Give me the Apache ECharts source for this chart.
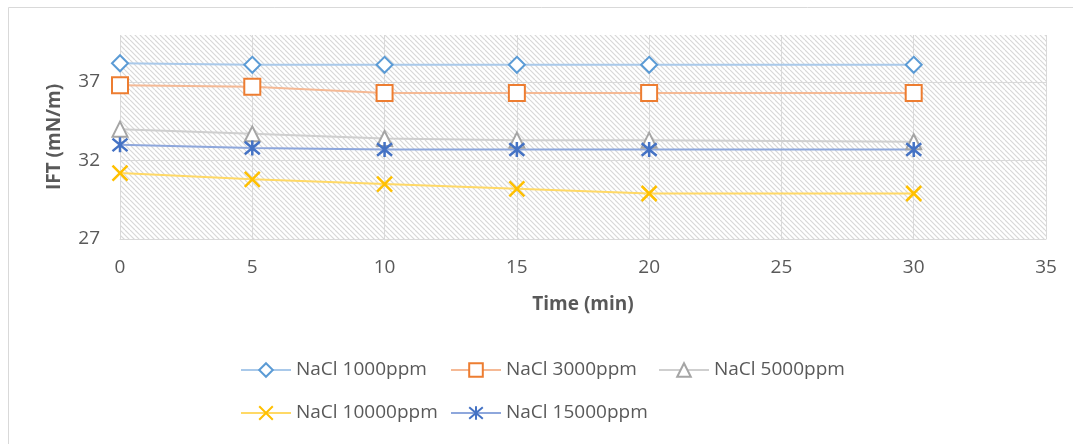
<!DOCTYPE html>
<html>
<head>
<meta charset="utf-8">
<script src="https://cdn.jsdelivr.net/npm/echarts@6/dist/echarts.min.js"></script>
<style>
  html, body { margin: 0; padding: 0; background: #fff; }
  #chart { width: 1073px; height: 444px; }
</style>
</head>
<body>
<div id="chart"></div>
<script>
// Time points (min)
const times = [0, 5, 10, 15, 20, 30];

// Interfacial tension (mN/m) for each brine concentration
const ift1000 = [38.2, 38.1, 38.1, 38.1, 38.1, 38.1];
const ift3000 = [36.8, 36.7, 36.3, 36.3, 36.3, 36.3];
const ift5000 = [34.0, 33.7, 33.4, 33.3, 33.3, 33.2];
const ift10000 = [31.2, 30.8, 30.5, 30.2, 29.9, 29.9];
const ift15000 = [33.0, 32.8, 32.7, 32.7, 32.7, 32.7];

const seriesNames = ['NaCl 1000ppm', 'NaCl 3000ppm', 'NaCl 5000ppm', 'NaCl 10000ppm', 'NaCl 15000ppm'];
const seriesValues = [ift1000, ift3000, ift5000, ift10000, ift15000];

// Axis ticks
const yTicks = [27, 32, 37];
const xTicks = [0, 5, 10, 15, 20, 25, 30, 35];

const markerColors = ['#5B9BD5', '#ED7D31', '#A5A5A5', '#FFC000', '#4472C4'];
const lineColors = ['#A9C9EA', '#F5B995', '#CFCFCF', '#FFD966', '#8EA7DC'];
const symbols = [
  'emptyDiamond',
  'emptyRect',
  'emptyTriangle',
  'path://M0,0L10,10M10,0L0,10',
  'path://M0,0L10,10M10,0L0,10M5,-1L5,11'
];
const symbolSizes = [16, 16, 15, 15, 15];

// Diagonal hatch used as the plot-area fill
function hatchPattern() {
  const size = 10;
  const c = document.createElement('canvas');
  c.width = size; c.height = size;
  const ctx = c.getContext('2d');
  ctx.fillStyle = '#ffffff';
  ctx.fillRect(0, 0, size, size);
  ctx.strokeStyle = '#d8d8d8';
  ctx.lineWidth = 1.2;
  for (let k = -size; k <= size; k += 5) {
    ctx.beginPath();
    ctx.moveTo(k, 0);
    ctx.lineTo(k + size, size);
    ctx.stroke();
  }
  return c;
}

const textColor = '#595959';
const font = 'Open Sans';

const series = seriesNames.map((name, i) => ({
  name: name,
  type: 'line',
  data: times.map((t, j) => [t, seriesValues[i][j]]),
  color: markerColors[i],
  symbol: symbols[i],
  symbolSize: symbolSizes[i],
  showAllSymbol: true,
  lineStyle: { color: lineColors[i], width: 2 },
  itemStyle: { color: markerColors[i], borderColor: markerColors[i], borderWidth: 2.5 },
  emphasis: { disabled: true },
  animation: false
}));

// One legend block per entry so the two rows line up in columns
const legendPos = [
  { left: 240, top: 360 },
  { left: 450, top: 360 },
  { left: 658, top: 360 },
  { left: 240, top: 403 },
  { left: 450, top: 403 }
];
const legends = seriesNames.map((name, i) => ({
  data: [name],
  left: legendPos[i].left,
  top: legendPos[i].top,
  padding: 0,
  itemWidth: 50,
  itemHeight: 17,
  textStyle: { color: textColor, fontFamily: font, fontSize: 19, lineHeight: 20, padding: [0, 0, 0, 0] },
  selectedMode: false
}));

const chart = echarts.init(document.getElementById('chart'), null, { renderer: 'canvas' });
chart.setOption({
  animation: false,
  backgroundColor: '#ffffff',
  graphic: [{
    type: 'rect',
    shape: { x: 8.5, y: 7.5, width: 1200, height: 600 },
    style: { fill: 'none', stroke: '#d9d9d9', lineWidth: 1 },
    silent: true
  }],
  grid: {
    left: 120, right: 27, top: 35, bottom: 205,
    show: true,
    borderWidth: 0,
    backgroundColor: { image: hatchPattern(), repeat: 'repeat' }
  },
  legend: legends,
  xAxis: {
    type: 'value',
    min: xTicks[0],
    max: xTicks[xTicks.length - 1],
    interval: 5,
    name: 'Time (min)',
    nameLocation: 'middle',
    nameGap: 56,
    nameTextStyle: { color: textColor, fontFamily: font, fontSize: 19, fontWeight: 'bold' },
    axisLine: { show: true, lineStyle: { color: '#d9d9d9', width: 1 } },
    axisTick: { show: false },
    axisLabel: { color: textColor, fontFamily: font, fontSize: 19, margin: 19 },
    splitLine: { show: true, lineStyle: { color: '#d9d9d9', width: 1 } }
  },
  yAxis: {
    type: 'value',
    min: 27,
    max: 40,
    name: 'IFT (mN/m)',
    nameLocation: 'middle',
    nameRotate: 90,
    nameGap: 56,
    nameTextStyle: { color: textColor, fontFamily: font, fontSize: 19, fontWeight: 'bold' },
    axisLine: { show: false },
    axisTick: { show: false, customValues: yTicks },
    axisLabel: { color: textColor, fontFamily: font, fontSize: 19, margin: 20, customValues: yTicks },
    splitLine: { show: true, lineStyle: { color: '#d9d9d9', width: 1 } }
  },
  series: series
});
</script>
</body>
</html>
